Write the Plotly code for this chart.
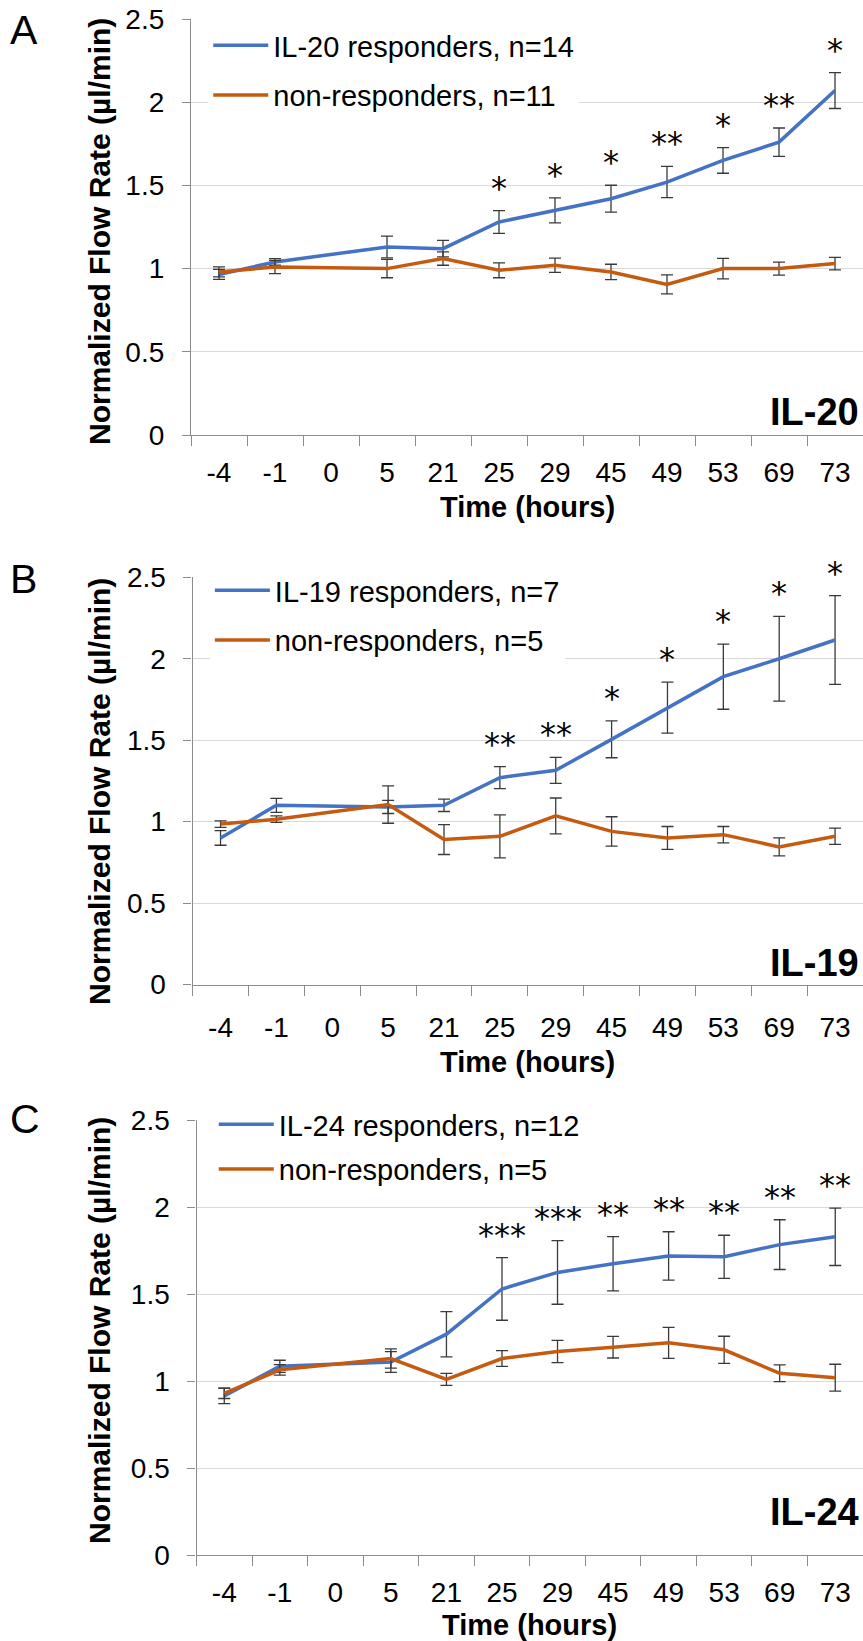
import plotly.graph_objects as go

W, H = 863, 1641

cats = ["-4", "-1", "0", "5", "21", "25", "29", "45", "49", "53", "69", "73"]

# Panel A (IL-20)
A_resp = [0.965, 1.04, None, 1.13, 1.12, 1.28, 1.35, 1.42, 1.52, 1.65, 1.76, 2.07]
A_resp_err = [0.03, 0.02, None, 0.065, 0.05, 0.068, 0.075, 0.081, 0.094, 0.077, 0.085, 0.108]
A_non = [0.98, 1.01, None, 1.00, 1.06, 0.99, 1.02, 0.98, 0.905, 1.00, 1.00, 1.03]
A_non_err = [0.03, 0.04, None, 0.055, 0.04, 0.045, 0.043, 0.046, 0.057, 0.062, 0.039, 0.038]
A_sig = ["", "", "", "", "", "*", "*", "*", "**", "*", "**", "*"]

# Panel B (IL-19)
B_resp = [0.90, 1.10, None, 1.09, 1.10, 1.27, 1.315, 1.505, 1.70, 1.89, 2.00, 2.115]
B_resp_err = [0.045, 0.043, None, 0.04, 0.038, 0.068, 0.08, 0.113, 0.157, 0.2, 0.26, 0.272]
B_non = [0.985, 1.015, None, 1.105, 0.89, 0.91, 1.035, 0.94, 0.90, 0.92, 0.845, 0.91]
B_non_err = [0.02, 0.02, None, 0.115, 0.092, 0.132, 0.11, 0.09, 0.07, 0.05, 0.055, 0.05]
B_sig = ["", "", "", "", "", "**", "**", "*", "*", "*", "*", "*"]

# Panel C (IL-24)
C_resp = [0.915, 1.085, None, 1.11, 1.27, 1.53, 1.625, 1.675, 1.72, 1.715, 1.785, 1.83]
C_resp_err = [0.045, 0.035, None, 0.06, 0.13, 0.18, 0.183, 0.156, 0.139, 0.124, 0.143, 0.165]
C_non = [0.93, 1.065, None, 1.13, 1.01, 1.13, 1.17, 1.195, 1.22, 1.18, 1.045, 1.02]
C_non_err = [0.03, 0.03, None, 0.055, 0.035, 0.045, 0.064, 0.062, 0.089, 0.078, 0.048, 0.077]
C_sig = ["", "", "", "", "", "***", "***", "**", "**", "**", "**", "**"]

panels = [
    dict(letter="A", tag="IL-20", resp=A_resp, resp_err=A_resp_err, non=A_non, non_err=A_non_err,
         sig=A_sig, resp_name="IL-20 responders, n=14", non_name="non-responders, n=11"),
    dict(letter="B", tag="IL-19", resp=B_resp, resp_err=B_resp_err, non=B_non, non_err=B_non_err,
         sig=B_sig, resp_name="IL-19 responders, n=7", non_name="non-responders, n=5"),
    dict(letter="C", tag="IL-24", resp=C_resp, resp_err=C_resp_err, non=C_non, non_err=C_non_err,
         sig=C_sig, resp_name="IL-24 responders, n=12", non_name="non-responders, n=5"),
]

# layout geometry in pixels
geo = [
    dict(top=19, bottom=435, left=191, letter_y=30, tag_y=412, ytitle_y=232, xtitle_y=507,
         leg_y=20, gap=9, standoff_x=12),
    dict(top=577.3, bottom=984.5, left=192.6, letter_y=579, tag_y=963, ytitle_y=792, xtitle_y=1062,
         leg_y=565, gap=9, standoff_x=18),
    dict(top=1120.3, bottom=1555, left=196.5, letter_y=1119, tag_y=1512, ytitle_y=1331, xtitle_y=1625,
         leg_y=1099, gap=4, standoff_x=12),
]

BLUE = "#4472C4"
ORANGE = "#C55A11"
FONT = "Liberation Sans, Arial, sans-serif"


def py(p):
    return 1 - p / H


fig = go.Figure()
annotations = []

for i, (p, g) in enumerate(zip(panels, geo)):
    k = "" if i == 0 else str(i + 1)
    xa, ya = "x" + k, "y" + k
    leg = "legend" + k
    for name, vals, errs, col in [(p["resp_name"], p["resp"], p["resp_err"], BLUE),
                                  (p["non_name"], p["non"], p["non_err"], ORANGE)]:
        fig.add_trace(go.Scatter(
            x=cats, y=vals, name=name, mode="lines", connectgaps=True,
            line=dict(color=col, width=3.5),
            error_y=dict(type="data", array=errs, visible=True, color="#3a3a3a",
                         thickness=1.3, width=6),
            xaxis=xa, yaxis=ya, legend=leg, legendgroup=name,
        ))
    # significance asterisks above responder error bars (x = category index)
    for ci, (v, e, s) in enumerate(zip(p["resp"], p["resp_err"], p["sig"])):
        if s:
            annotations.append(dict(
                x=ci, y=v + e, xref=xa, yref=ya, text=s, showarrow=False,
                yanchor="middle", yshift=23,
                font=dict(family="DejaVu Sans, sans-serif", size=32, color="black")))

    fig.update_layout(**{
        "xaxis" + k: dict(
            domain=[g["left"] / W, 1], anchor=ya, type="category",
            categoryorder="array", categoryarray=cats, range=[-0.5, len(cats) - 0.5],
            showline=True, linecolor="#8c8c8c", linewidth=1.3,
            ticks="outside", tickson="boundaries", ticklen=10, tickcolor="#8c8c8c",
            tickwidth=1.3, showgrid=False, zeroline=False, automargin=False,
            tickfont=dict(family=FONT, size=28, color="black"),
            ticklabelstandoff=g["standoff_x"], fixedrange=True),
        "yaxis" + k: dict(
            domain=[py(g["bottom"]), py(g["top"])], anchor=xa, range=[0, 2.5],
            tickvals=[0, 0.5, 1, 1.5, 2, 2.5], ticktext=["0", "0.5", "1", "1.5", "2", "2.5"],
            showline=True, linecolor="#8c8c8c", linewidth=1.3,
            ticks="outside", ticklen=8, tickcolor="#8c8c8c", tickwidth=1.3,
            showgrid=True, gridcolor="#d9d9d9", gridwidth=1.3, zeroline=False,
            automargin=False,
            tickfont=dict(family=FONT, size=28, color="black"),
            ticklabelstandoff=12, fixedrange=True),
        leg: dict(
            x=g["left"] / W + 0.02, y=py(g["leg_y"]), xanchor="left", yanchor="top",
            bgcolor="white", borderwidth=0, itemwidth=55, tracegroupgap=g["gap"],
            font=dict(family=FONT, size=29, color="black"), traceorder="grouped"),
    })

    annotations.append(dict(x=8 / W, y=py(g["letter_y"]), xref="paper", yref="paper",
                            text=p["letter"], showarrow=False, xanchor="left", yanchor="middle",
                            font=dict(family=FONT, size=41, color="black")))
    annotations.append(dict(x=861 / W, y=py(g["tag_y"]), xref="paper", yref="paper",
                            text="<b>%s</b>" % p["tag"], showarrow=False, xanchor="right",
                            yanchor="middle", font=dict(family=FONT, size=38, color="black")))
    annotations.append(dict(x=99 / W, y=py(g["ytitle_y"]), xref="paper", yref="paper",
                            text="<b>Normalized Flow Rate (µl/min)</b>", showarrow=False,
                            textangle=-90, xanchor="center", yanchor="middle",
                            font=dict(family=FONT, size=30, color="black")))
    annotations.append(dict(x=(g["left"] + W) / 2 / W, y=py(g["xtitle_y"]), xref="paper",
                            yref="paper", text="<b>Time (hours)</b>", showarrow=False,
                            xanchor="center", yanchor="middle",
                            font=dict(family=FONT, size=29, color="black")))

fig.update_layout(
    width=W, height=H, margin=dict(l=0, r=0, t=0, b=0, autoexpand=False),
    paper_bgcolor="white", plot_bgcolor="white",
    showlegend=True, annotations=annotations,
    font=dict(family=FONT, color="black"),
)

fig.write_html(
    "out.html",
    config={"displayModeBar": False},
    post_script="document.body.style.margin='0';document.body.style.overflow='hidden';",
)
